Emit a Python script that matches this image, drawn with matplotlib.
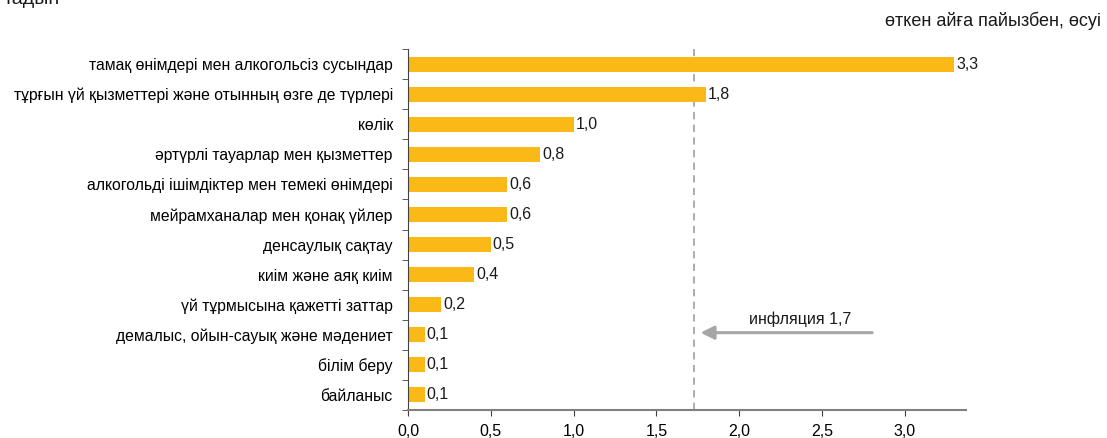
import numpy as np
import matplotlib
matplotlib.use('Agg')
import matplotlib.pyplot as plt

plt.rcParams['font.family'] = ['Liberation Sans', 'DejaVu Sans']

categories = ['тамақ өнімдері мен алкогольсіз сусындар',
              'тұрғын үй қызметтері және отынның өзге де түрлері',
              'көлік',
              'әртүрлі тауарлар мен қызметтер',
              'алкогольді ішімдіктер мен темекі өнімдері',
              'мейрамханалар мен қонақ үйлер',
              'денсаулық сақтау',
              'киім және аяқ киім',
              'үй тұрмысына қажетті заттар',
              'демалыс, ойын-сауық және мәдениет',
              'білім беру',
              'байланыс']
values = [3.3, 1.8, 1.0, 0.8, 0.6, 0.6, 0.5, 0.4, 0.2, 0.1, 0.1, 0.1]
inflation = 1.73
xticks = [0.0, 0.5, 1.0, 1.5, 2.0, 2.5, 3.0]

fig = plt.figure(figsize=(11.07, 4.38), dpi=100)
ax = fig.add_axes([0.3686, 0.064, 0.504, 0.824])

y = np.arange(len(categories))
ax.barh(y, values, height=0.5, color='#FBB917', zorder=2)
for yi, v in zip(y, values):
    ax.text(v + 0.012, yi, ('%.1f' % v).replace('.', ','), va='center',
            ha='left', fontsize=11.5, color='#1a1a1a')

ax.axvline(inflation, color='#A6A6A6', ls=(0, (4, 3)), lw=1.3, zorder=1)
ax.annotate('', xy=(inflation + 0.02, 8.93), xytext=(2.82, 8.93),
            arrowprops=dict(arrowstyle='-|>', color='#A6A6A6', lw=2.2,
                            mutation_scale=20))
ax.text(2.37, 8.5, 'инфляция 1,7', ha='center', va='center', fontsize=11.5,
        color='#1a1a1a')

ax.set_ylim(len(categories) - 0.5, -0.5)
ax.set_xlim(0, 3.37)
ax.set_xticks(xticks)
ax.set_xticklabels([('%.1f' % t).replace('.', ',') for t in xticks], fontsize=11.5)
ax.set_yticks(y)
ax.set_yticklabels(categories, fontsize=11.3)
ax.set_yticks(np.arange(len(categories) + 1) - 0.5, minor=True)
ax.tick_params(axis='y', which='major', length=0, pad=11)
ax.tick_params(axis='y', which='minor', length=4, color='#404040')
ax.tick_params(axis='x', length=4, color='#404040', pad=6)

for s in ['top', 'right']:
    ax.spines[s].set_visible(False)
ax.spines['left'].set_color('#404040')
ax.spines['bottom'].set_color('#808080')
ax.spines['bottom'].set_linewidth(1.5)

fig.text(0.995, 0.953, 'өткен айға пайызбен, өсуі', ha='right', va='center',
         fontsize=13, color='#1a1a1a')
fig.text(0.003, 1.0, 'тадын', ha='left', va='center', fontsize=14,
         color='#1a1a1a')

fig.savefig('out.png', dpi=100)
